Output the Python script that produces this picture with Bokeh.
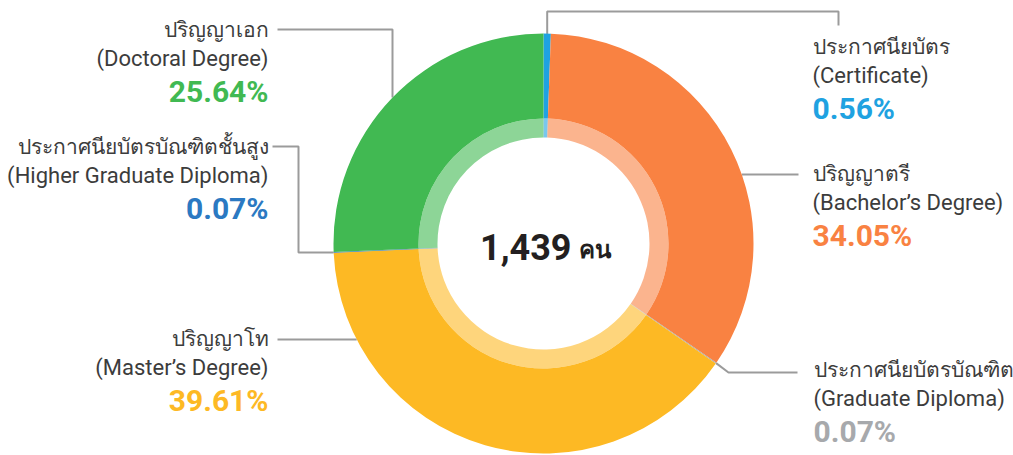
import math
from bokeh.plotting import figure
from bokeh.models import Range1d
from bokeh.core.properties import value
from bokeh.embed import file_html
from bokeh.resources import INLINE

# ---- data ----
labels_th = ["ประกาศนียบัตร", "ปริญญาตรี", "ประกาศนียบัตรบัณฑิต", "ปริญญาโท",
             "ประกาศนียบัตรบัณฑิตชั้นสูง", "ปริญญาเอก"]
labels_en = ["(Certificate)", "(Bachelor’s Degree)", "(Graduate Diploma)",
             "(Master’s Degree)", "(Higher Graduate Diploma)", "(Doctoral Degree)"]
percents = [0.56, 34.05, 0.07, 39.61, 0.07, 25.64]
colors = ["#1FA2E1", "#F98242", "#A7A9AC", "#FDB924", "#2B79C2", "#41B952"]
total_people = 1439
unit_th = "คน"

# ---- layout (screen px of the 1013x455 page) ----
W, H = 1013, 455
CX, CY = 543, 243
R_OUT, R_MID, R_IN = 210, 125, 106

def Y(sy):
    return H - sy

p = figure(width=W, height=H, output_backend="svg", toolbar_location=None,
           x_range=Range1d(0, W), y_range=Range1d(0, H), min_border=0)
p.axis.visible = False
p.grid.visible = False
p.outline_line_color = None
p.background_fill_color = "white"

# angles: start at top, clockwise
cum = [0.0]
for v in percents:
    cum.append(cum[-1] + v)
tot = cum[-1]
starts = [math.pi / 2 - cum[i + 1] / tot * 2 * math.pi for i in range(len(percents))]
ends = [math.pi / 2 - cum[i] / tot * 2 * math.pi for i in range(len(percents))]
mids = [(s + e) / 2 for s, e in zip(starts, ends)]

def ring_pt(ang, r=R_OUT):
    return CX + r * math.cos(ang), CY - r * math.sin(ang)

def ring_x_at(sy, side):
    dx = math.sqrt(R_OUT ** 2 - (sy - CY) ** 2)
    return CX + dx if side > 0 else CX - dx

def ring_y_at(sx):
    dy = math.sqrt(R_OUT ** 2 - (sx - CX) ** 2)
    return CY - dy

# leader lines (screen coords)
paths = []
x0, y0 = ring_pt(mids[0]); paths.append([(x0, y0 + 1), (x0, 11), (838, 11), (838, 25)])
paths.append([(ring_x_at(174, 1), 174), (798, 174)])
x2, y2 = ring_pt(mids[2]); paths.append([(x2, y2), (728, 372), (797, 372)])
paths.append([(ring_x_at(339, -1), 339), (277, 339)])
x4, y4 = ring_pt(mids[4]); paths.append([(x4, y4), (298, y4), (298, 146), (272, 146)])
paths.append([(392, ring_y_at(392)), (392, 29), (277, 29)])

p.multi_line(xs=[[q[0] for q in pt] for pt in paths],
             ys=[[Y(q[1]) for q in pt] for pt in paths],
             line_color="#9B9B9B", line_width=2)

# donut
p.annular_wedge(x=CX, y=Y(CY), inner_radius=R_MID, outer_radius=R_OUT,
                inner_radius_units="screen", outer_radius_units="screen",
                start_angle=starts, end_angle=ends, fill_color=colors,
                line_color=None)
p.annular_wedge(x=CX, y=Y(CY), inner_radius=R_IN, outer_radius=R_MID,
                inner_radius_units="screen", outer_radius_units="screen",
                start_angle=starts, end_angle=ends, fill_color=colors,
                fill_alpha=0.6, line_color=None)

# labels
lab_x = [812, 812, 813, 268, 268, 268]
lab_base = [46, 173, 369, 338, 146, 29]
TXT = "#3C3C3C"
FONT = "Roboto"
for i in range(len(percents)):
    align = "left" if lab_x[i] > CX else "right"
    p.text(x=[lab_x[i]], y=[Y(lab_base[i])], text=[labels_th[i]],
           text_font=value(FONT), text_font_size="21px", text_color=TXT,
           text_align=align, text_baseline="alphabetic")
    p.text(x=[lab_x[i]], y=[Y(lab_base[i] + 29)], text=[labels_en[i]],
           text_font=value(FONT), text_font_size="22px", text_color=TXT,
           text_align=align, text_baseline="alphabetic")
    p.text(x=[lab_x[i]], y=[Y(lab_base[i] + 62)], text=["%.2f%%" % percents[i]],
           text_font=value(FONT), text_font_size="30px", text_font_style="bold",
           text_color=colors[i], text_align=align, text_baseline="alphabetic")

# center text
p.text(x=[571], y=[Y(246)], text=["{:,}".format(total_people)],
       text_font=value(FONT), text_font_size="36px",
       text_font_style="bold", text_color="#231F20", text_align="right",
       text_baseline="alphabetic")
p.text(x=[578], y=[Y(249)], text=[unit_th],
       text_font=value(FONT), text_font_size="24px", text_font_style="bold",
       text_color="#231F20", text_align="left", text_baseline="alphabetic")

open("out.html", "w").write(file_html(p, INLINE))
